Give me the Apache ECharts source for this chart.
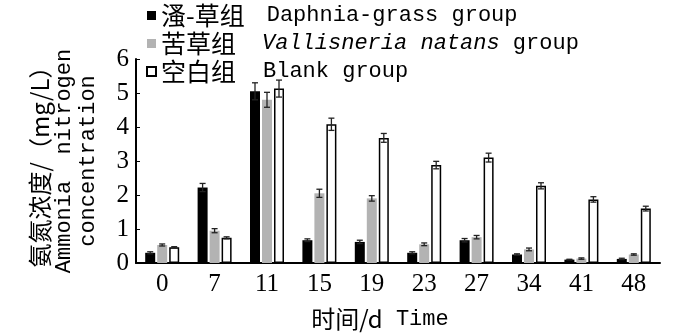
<!DOCTYPE html>
<html>
<head>
    <meta charset="utf-8">
    <title>氨氮浓度</title>
    <script src="https://cdn.jsdelivr.net/npm/echarts@6/dist/echarts.min.js"></script>
    <style>
        html, body { margin: 0; padding: 0; background: #fff; }
    </style>
</head>
<body>
    <div id="main" style="width: 700px;height:336px;"></div>
    <script type="text/javascript">
        // 数据
        var days = ['0', '7', '11', '15', '19', '23', '27', '34', '41', '48'];
        var daphniaVal = [0.30, 2.22, 5.05, 0.67, 0.62, 0.30, 0.67, 0.25, 0.10, 0.12];
        var daphniaErr = [0.03, 0.12, 0.25, 0.04, 0.05, 0.03, 0.05, 0.02, 0.01, 0.02];
        var vallisVal = [0.53, 0.95, 4.80, 2.05, 1.90, 0.55, 0.76, 0.40, 0.13, 0.25];
        var vallisErr = [0.03, 0.06, 0.22, 0.12, 0.08, 0.04, 0.05, 0.04, 0.02, 0.02];
        var blankVal = [0.46, 0.74, 5.13, 4.08, 3.68, 2.88, 3.10, 2.27, 1.87, 1.60];
        var blankErr = [0.02, 0.03, 0.25, 0.18, 0.13, 0.11, 0.13, 0.09, 0.08, 0.07];
        var yTicks = [0, 1, 2, 3, 4, 5, 6];

        var names = ['溞-草组 Daphnia-grass group', '苦草组 Vallisneria natans group', '空白组 Blank group'];
        var latin = 'Liberation Mono';
        var cjk = 'Noto Sans CJK SC';
        var num = 'Liberation Serif';

        function errData(vals, errs) {
            var out = [];
            for (var i = 0; i < vals.length; i++) {
                out.push([i, vals[i], errs[i]]);
            }
            return out;
        }

        // 误差线
        function errorBar(offset) {
            return function (params, api) {
                var x = api.value(0);
                var v = api.value(1);
                var e = api.value(2);
                var hi = api.coord([x, v + e]);
                var lo = api.coord([x, v - e]);
                var cx = hi[0] + offset;
                var style = { stroke: '#222', lineWidth: 1.3 };
                return {
                    type: 'group',
                    children: [
                        { type: 'line', shape: { x1: cx, y1: hi[1], x2: cx, y2: lo[1] }, style: style },
                        { type: 'line', shape: { x1: cx - 3, y1: hi[1], x2: cx + 3, y2: hi[1] }, style: style },
                        { type: 'line', shape: { x1: cx - 3, y1: lo[1], x2: cx + 3, y2: lo[1] }, style: style }
                    ]
                };
            };
        }

        var chart = echarts.init(document.getElementById('main'));
        var option = {
            animation: false,
            backgroundColor: '#fff',
            legend: {
                orient: 'vertical',
                left: 146,
                top: 3,
                padding: 0,
                itemGap: 3,
                itemWidth: 9,
                itemHeight: 9,
                icon: 'rect',
                data: names,
                formatter: function (name) {
                    if (name === names[0]) return '{zh|溞-草组}{en1|Daphnia-grass group}';
                    if (name === names[1]) return '{zh|苦草组}{it|Vallisneria natans}{plain| group}';
                    return '{zh|空白组}{en|Blank group}';
                },
                textStyle: {
                    color: '#000',
                    rich: {
                        zh: { fontFamily: cjk, fontSize: 25, lineHeight: 28, color: '#000' },
                        en1: { fontFamily: latin, fontSize: 22, lineHeight: 28, color: '#000', padding: [0, 0, 0, 22] },
                        en: { fontFamily: latin, fontSize: 22, lineHeight: 28, color: '#000', padding: [0, 0, 0, 27] },
                        it: { fontFamily: latin, fontSize: 22, lineHeight: 28, fontStyle: 'italic', color: '#000', padding: [0, 0, 0, 26] },
                        plain: { fontFamily: latin, fontSize: 22, lineHeight: 28, color: '#000' }
                    }
                }
            },
            grid: {
                left: 136,
                right: 40,
                top: 59,
                bottom: 69
            },
            xAxis: {
                type: 'category',
                data: days,
                axisLine: { lineStyle: { color: '#000', width: 2 } },
                axisTick: { show: false },
                axisLabel: { color: '#000', fontFamily: num, fontSize: 25, margin: 9 },
                name: '{zh|时间/d}{en| Time}',
                nameLocation: 'middle',
                nameGap: 44,
                nameTextStyle: {
                    padding: [0, 36, 0, 0],
                    rich: {
                        zh: { fontFamily: cjk, fontSize: 24, color: '#000' },
                        en: { fontFamily: latin, fontSize: 22, color: '#000' }
                    }
                }
            },
            yAxis: {
                type: 'value',
                min: yTicks[0],
                max: yTicks[yTicks.length - 1],
                interval: 1,
                splitLine: { show: false },
                axisLine: { show: true, lineStyle: { color: '#000', width: 2 } },
                axisTick: { show: true, inside: true, length: 4, lineStyle: { color: '#000' } },
                axisLabel: { color: '#000', fontFamily: num, fontSize: 25, margin: 7 },
                name: '{zh|氨氮浓度/（mg/L）}\n{en|Ammonia  nitrogen}\n{en|concentration}',
                nameLocation: 'middle',
                nameRotate: 90,
                nameGap: 36,
                nameTextStyle: {
                    rich: {
                        zh: { fontFamily: cjk, fontSize: 24, lineHeight: 24, color: '#000' },
                        en: { fontFamily: latin, fontSize: 22, lineHeight: 24, color: '#000' }
                    }
                }
            },
            series: [
                {
                    name: names[0],
                    type: 'bar',
                    barWidth: 10,
                    barGap: '20%',
                    itemStyle: { color: '#000' },
                    data: daphniaVal
                },
                {
                    name: names[1],
                    type: 'bar',
                    barWidth: 10,
                    barGap: '20%',
                    itemStyle: { color: '#b3b3b3' },
                    data: vallisVal
                },
                {
                    name: names[2],
                    type: 'bar',
                    barWidth: 10,
                    barGap: '20%',
                    itemStyle: { color: '#fff', borderColor: '#000', borderWidth: 1.5 },
                    data: blankVal
                },
                {
                    type: 'custom',
                    renderItem: errorBar(-12),
                    encode: { x: 0, y: 1 },
                    z: 5,
                    data: errData(daphniaVal, daphniaErr)
                },
                {
                    type: 'custom',
                    renderItem: errorBar(0),
                    encode: { x: 0, y: 1 },
                    z: 5,
                    data: errData(vallisVal, vallisErr)
                },
                {
                    type: 'custom',
                    renderItem: errorBar(12),
                    encode: { x: 0, y: 1 },
                    z: 5,
                    data: errData(blankVal, blankErr)
                }
            ]
        };
        chart.setOption(option);
    </script>
</body>
</html>
